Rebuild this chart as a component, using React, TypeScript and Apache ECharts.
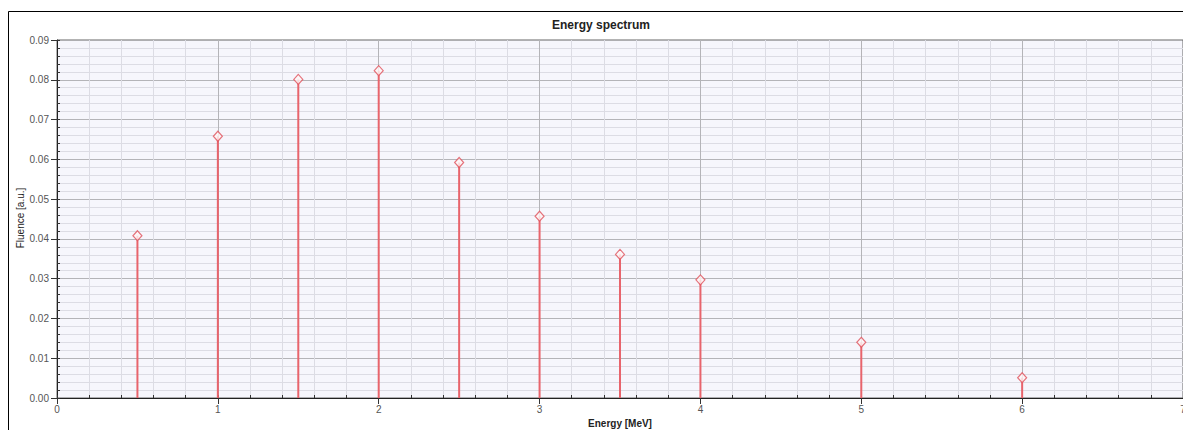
import React, { useEffect, useRef } from "react";
import * as echarts from "echarts";

const energies: number[] = [0.5, 1, 1.5, 2, 2.5, 3, 3.5, 4, 5, 6];
const fluence: number[] = [0.0408, 0.0658, 0.0801, 0.0823, 0.0592, 0.0457, 0.0361, 0.0297, 0.014, 0.0051];
const titleText = "Energy spectrum";
const xName = "Energy [MeV]";
const yName = "Fluence [a.u.]";

const FONT = "'Liberation Sans', Arial, sans-serif";

export default function App() {
  const ref = useRef<HTMLDivElement>(null);
  useEffect(() => {
    if (!ref.current) return;
    const chart = echarts.init(ref.current, undefined, { renderer: "svg" });
    const pts = energies.map((e, i) => [e, fluence[i]]);
    chart.setOption({
      animation: false,
      backgroundColor: "#ffffff",
      textStyle: { fontFamily: FONT },
      graphic: [
        {
          type: "rect",
          shape: { x: 8.5, y: 11.5, width: 1300, height: 600 },
          style: { fill: "none", stroke: "#000", lineWidth: 1 },
          silent: true,
          z: 100,
        },
        {
          type: "text",
          x: 601,
          y: 25,
          style: {
            text: titleText,
            fill: "#222",
            font: `bold 12px ${FONT}`,
            textAlign: "center",
            textVerticalAlign: "middle",
          },
        },
        {
          type: "text",
          x: 20,
          y: 218,
          rotation: Math.PI / 2,
          style: {
            text: yName,
            fill: "#222",
            font: `10px ${FONT}`,
            textAlign: "center",
            textVerticalAlign: "middle",
          },
        },
      ],
      grid: {
        left: 57,
        top: 40,
        right: 0,
        bottom: 32,
        outerBoundsMode: "none",
        containLabel: false,
        show: true,
        backgroundColor: "#f6f6fc",
        borderColor: "#666",
        borderWidth: 1,
      },
      xAxis: [
        {
          type: "value",
          min: 0,
          max: 7,
          interval: 1,
          name: xName,
          nameLocation: "middle",
          nameGap: 19,
          nameTextStyle: { fontSize: 10, fontWeight: "bold", color: "#222", fontFamily: FONT },
          axisLine: { show: true, onZero: false, lineStyle: { color: "#222", width: 1 } },
          axisTick: { show: true, inside: false, length: 6, lineStyle: { color: "#333" } },
          axisLabel: { fontSize: 10, color: "#555", margin: 6, fontFamily: FONT },
          splitLine: { show: true, showMinLine: false, showMaxLine: false, lineStyle: { color: "#b4b4b8", width: 1 } },
          minorTick: { show: false, splitNumber: 5 },
          minorSplitLine: { show: true, lineStyle: { color: "#dcdce4", width: 1 } },
        },
        {
          type: "value",
          position: "bottom",
          min: 0,
          max: 7,
          interval: 0.2,
          axisLine: { show: false, onZero: false },
          axisTick: { show: true, inside: true, length: 3, lineStyle: { color: "#333" } },
          axisLabel: { show: false },
          splitLine: { show: false },
        },
      ],
      yAxis: [
        {
          type: "value",
          min: 0,
          max: 0.09,
          interval: 0.01,
          axisLine: { show: true, onZero: false, lineStyle: { color: "#222", width: 1 } },
          axisTick: { show: true, inside: false, length: 6, lineStyle: { color: "#333" } },
          axisLabel: {
            fontSize: 10,
            color: "#555",
            margin: 8,
            fontFamily: FONT,
            formatter: (v: number) => v.toFixed(2),
          },
          splitLine: { show: true, showMinLine: false, showMaxLine: false, lineStyle: { color: "#b4b4b8", width: 1 } },
          minorTick: { show: false, splitNumber: 5 },
          minorSplitLine: { show: true, lineStyle: { color: "#dcdce4", width: 1 } },
        },
        {
          type: "value",
          position: "left",
          min: 0,
          max: 0.09,
          interval: 0.002,
          axisLine: { show: false, onZero: false },
          axisTick: { show: true, inside: true, length: 3, lineStyle: { color: "#333" } },
          axisLabel: { show: false },
          splitLine: { show: false },
        },
      ],
      series: [
        {
          type: "bar",
          xAxisIndex: 0,
          yAxisIndex: 0,
          data: pts,
          barWidth: 2,
          itemStyle: { color: "#e8646c" },
          z: 3,
        },
        {
          type: "scatter",
          xAxisIndex: 0,
          yAxisIndex: 0,
          data: pts,
          symbol: "diamond",
          symbolSize: [9, 10],
          itemStyle: { color: "#fff6f6", borderColor: "#e0505a", borderWidth: 1.2 },
          z: 4,
        },
      ],
    });
    return () => chart.dispose();
  }, []);
  return (
    <div
      ref={ref}
      style={{ position: "absolute", left: 0, top: 0, width: 1183, height: 430 }}
    />
  );
}
